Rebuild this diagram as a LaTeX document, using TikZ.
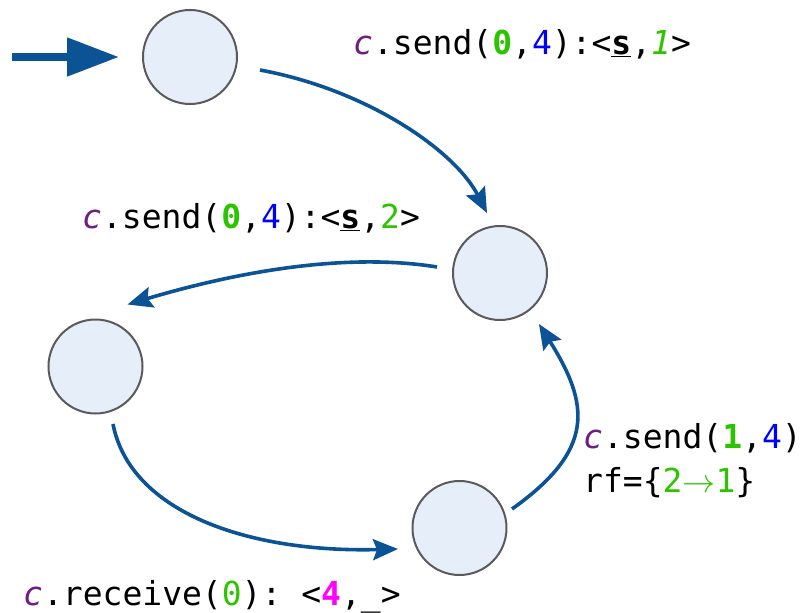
\RequirePackage{fix-cm}
\documentclass[tikz,border=0pt]{standalone}
\usepackage{fontspec}
\setmonofont{DejaVu Sans Mono}
\usetikzlibrary{arrows.meta,calc}
\definecolor{cpurple}{RGB}{110,30,130}
\definecolor{cgreen}{RGB}{44,196,0}
\definecolor{cblue}{RGB}{0,0,255}
\definecolor{cmagenta}{RGB}{255,0,255}
\definecolor{edgeblue}{RGB}{11,83,148}
\definecolor{circfill}{RGB}{230,238,250}
\definecolor{circdraw}{RGB}{90,90,90}
\newcommand{\cc}{\textcolor{cpurple}{\textit{c}}}
\newcommand{\gr}[1]{\textcolor{cgreen}{#1}}
\newcommand{\bl}[1]{\textcolor{cblue}{#1}}
\begin{document}
\begin{tikzpicture}[x=1pt,y=-1pt,
  st/.style={circle,minimum size=94pt,inner sep=0pt,draw=circdraw,fill=circfill,line width=2pt},
  edge/.style={draw=edgeblue,line width=3.6pt,-{Stealth[length=25pt,width=21pt,inset=4pt]}},
  lbl/.style={anchor=base west,inner sep=0pt,font=\ttfamily\fontsize{33}{44}\selectfont}]
\useasboundingbox (0,0) rectangle (807,613);
% states
\node[st] (c1) at (190,57) {};
\node[st] (c2) at (500,273) {};
\node[st] (c3) at (95.5,366.5) {};
\node[st] (c4) at (459.5,528) {};
% initial arrow
\coordinate (init) at (12,57);
\draw[draw=edgeblue,line width=8pt,-{Triangle[length=52pt,width=37pt]},shorten >=23pt] (init) -- (c1.west);
% edges
\draw[edge] ([shift={(70,13)}]c1.center) .. controls (368,90) and (455,151) .. ([shift={(-13,-60)}]c2.center);
\draw[edge] ([shift={(-63,-6)}]c2.center) .. controls (338,251) and (223,276) .. ([shift={(32,-62)}]c3.center);
\draw[edge] ([shift={(17.5,57.5)}]c3.center) .. controls (130,512) and (248,553) .. ([shift={(-61.5,21)}]c4.center);
\draw[edge] ([shift={(52.5,-19)}]c4.center) .. controls (595,450) and (590,405) .. ([shift={(39,51)}]c2.center);
% labels
\node[lbl] (l1) at (353,54) {\cc.send(\gr{\textbf{0}},\bl{4}):<\underline{\textbf{s}},\gr{\textit{1}}>};
\node[lbl] (l2) at (82,228) {\cc.send(\gr{\textbf{0}},\bl{4}):<\underline{\textbf{s}},\gr{2}>};
\node[lbl] (l3a) at (583,448) {\cc.send(\gr{\textbf{1}},\bl{4})};
\node[lbl] (l3b) at (583,492) {rf=\{\gr{2$\rightarrow$1}\}};
\node[lbl] (l4) at (23,605) {\cc.receive(\gr{0}): <\textcolor{cmagenta}{\textbf{4}},\_>};
\end{tikzpicture}
\end{document}
